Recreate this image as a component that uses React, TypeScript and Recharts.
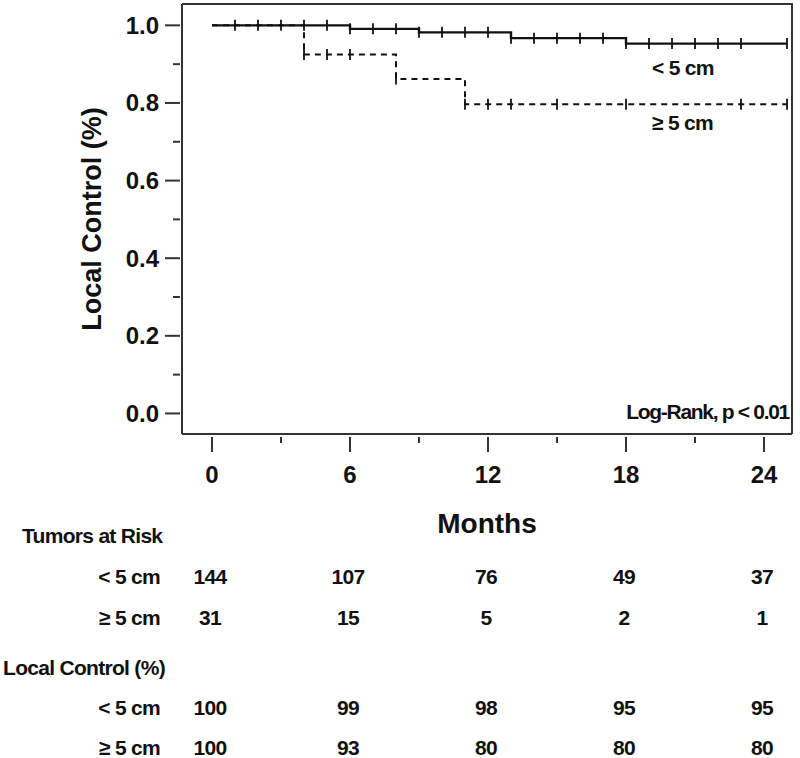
import { Customized, Label, Line, LineChart, XAxis, YAxis } from "recharts";

// Kaplan-Meier, tumors < 5 cm
const smallMonths = [0, 1, 2, 3, 4, 5, 6, 7, 8, 9, 10, 11, 12, 13, 14, 15, 16, 17, 18, 19, 20, 21, 22, 23, 25];
const smallLC = [
  1, 1, 1, 1, 1, 1, 0.991, 0.991, 0.991, 0.982, 0.982, 0.982, 0.982, 0.967, 0.967, 0.967, 0.967, 0.967,
  0.953, 0.953, 0.953, 0.953, 0.953, 0.953, 0.953,
];
const smallCensored = [0, 1, 1, 1, 1, 1, 1, 1, 1, 1, 1, 1, 1, 1, 1, 1, 1, 1, 1, 1, 1, 1, 1, 1, 1];

// Kaplan-Meier, tumors >= 5 cm
const largeMonths = [0, 4, 5, 6, 8, 11, 12, 13, 15, 18, 23, 25];
const largeLC = [1, 0.925, 0.925, 0.925, 0.862, 0.797, 0.797, 0.797, 0.797, 0.797, 0.797, 0.797];
const largeCensored = [0, 1, 1, 1, 1, 1, 1, 1, 1, 1, 1, 1];

// table under the x axis
const tableMonths = [0, 6, 12, 18, 24];
const atRiskSmall = [144, 107, 76, 49, 37];
const atRiskLarge = [31, 15, 5, 2, 1];
const lcSmall = [100, 99, 98, 95, 95];
const lcLarge = [100, 93, 80, 80, 80];

const xTicks = [0, 3, 6, 9, 12, 15, 18, 21, 24];
const yTicks = [0, 0.1, 0.2, 0.3, 0.4, 0.5, 0.6, 0.7, 0.8, 0.9, 1.0];
const xDomain = [-1.304, 25.217];
const yDomain = [-0.053, 1.055];

const MAIN_FONT = "'Liberation Sans', Arial, sans-serif";
const INK = "#111";
const FRAME = "#333";

// plot box (matches chart margin + axis sizes below)
const PLOT = { left: 182, top: 4, right: 792, bottom: 434 };

const smallData = smallMonths.map((m, i) => ({ month: m, lc: smallLC[i], censored: smallCensored[i] }));
const largeData = largeMonths.map((m, i) => ({ month: m, lc: largeLC[i], censored: largeCensored[i] }));

// the original uses a tight, condensed bold face for annotations and the table
const tightText = { fontFamily: MAIN_FONT, fontWeight: 700, fontSize: 21, fill: INK, letterSpacing: -0.7 };

function censorMark(props: any) {
  const { cx, cy, payload, index } = props;
  if (!payload?.censored) return <g key={`c-${index}`} />;
  return <line key={`c-${index}`} x1={cx} x2={cx} y1={cy - 5.5} y2={cy + 5.5} stroke={INK} strokeWidth={1.8} />;
}

function YTick(props: any) {
  const { x, y, payload } = props;
  const v = payload.value as number;
  const major = Math.round(v * 10) % 2 === 0;
  return (
    <g>
      <line x1={x - (major ? 17 : 9)} x2={x - 2} y1={y} y2={y} stroke={FRAME} strokeWidth={2} />
      {major && (
        <text x={x - 23} y={y + 8.5} textAnchor="end" fontFamily={MAIN_FONT} fontWeight={700} fontSize={24} fill={INK}>
          {v.toFixed(1)}
        </text>
      )}
    </g>
  );
}

function XTick(props: any) {
  const { x, y, payload } = props;
  const m = payload.value as number;
  const col = tableMonths.indexOf(m);
  if (col < 0) {
    return <line x1={x} x2={x} y1={y + 3} y2={y + 9} stroke={FRAME} strokeWidth={2} />;
  }
  return (
    <g>
      <line x1={x} x2={x} y1={y + 3} y2={y + 18} stroke={FRAME} strokeWidth={2} />
      <text x={x} y={y + 49} textAnchor="middle" fontFamily={MAIN_FONT} fontWeight={700} fontSize={24} fill={INK}>
        {m}
      </text>
      <text x={x - 2} y={y + 150} textAnchor="middle" {...tightText}>{atRiskSmall[col]}</text>
      <text x={x - 2} y={y + 191} textAnchor="middle" {...tightText}>{atRiskLarge[col]}</text>
      <text x={x - 2} y={y + 281} textAnchor="middle" {...tightText}>{lcSmall[col]}</text>
      <text x={x - 2} y={y + 321} textAnchor="middle" {...tightText}>{lcLarge[col]}</text>
    </g>
  );
}

function Annotations() {
  return (
    <g>
      {/* top and right sides of the plot frame; left and bottom come from the axis lines */}
      <path
        d={`M${PLOT.left},${PLOT.top} H${PLOT.right} V${PLOT.bottom}`}
        fill="none"
        stroke={FRAME}
        strokeWidth={2}
      />
      <text x={652} y={75} {...tightText}>{"< 5 cm"}</text>
      <text x={652} y={130} {...tightText}>{"≥ 5 cm"}</text>
      <text x={789} y={419} textAnchor="end" {...tightText} letterSpacing={-1.3}>Log-Rank, p &lt; 0.01</text>
      <text x={22} y={543} {...tightText}>Tumors at Risk</text>
      <text x={160} y={584} textAnchor="end" {...tightText}>{"< 5 cm"}</text>
      <text x={160} y={625} textAnchor="end" {...tightText}>{"≥ 5 cm"}</text>
      <text x={3} y={675} {...tightText}>Local Control (%)</text>
      <text x={160} y={715} textAnchor="end" {...tightText}>{"< 5 cm"}</text>
      <text x={160} y={755} textAnchor="end" {...tightText}>{"≥ 5 cm"}</text>
    </g>
  );
}

function MonthsLabel(props: any) {
  const { viewBox } = props;
  return (
    <text
      x={viewBox.x + viewBox.width / 2}
      y={viewBox.y + 99}
      textAnchor="middle"
      fontFamily={MAIN_FONT}
      fontWeight={700}
      fontSize={28}
      fill={INK}
    >
      Months
    </text>
  );
}

export default function App() {
  return (
    <div style={{ position: "absolute", left: 0, top: 0, width: 800, height: 758, background: "#fff" }}>
      <LineChart width={800} height={758} margin={{ top: PLOT.top, right: 800 - PLOT.right, bottom: 0, left: 0 }}>
        <XAxis
          type="number"
          dataKey="month"
          domain={xDomain}
          ticks={xTicks}
          allowDataOverflow
          height={758 - PLOT.bottom}
          tickSize={0}
          tickMargin={0}
          tickLine={false}
          axisLine={{ stroke: FRAME, strokeWidth: 2 }}
          tick={<XTick />}
          interval={0}
        >
          <Label content={<MonthsLabel />} />
        </XAxis>
        <YAxis
          type="number"
          domain={yDomain}
          ticks={yTicks}
          allowDataOverflow
          width={PLOT.left}
          tickSize={0}
          tickMargin={0}
          tickLine={false}
          axisLine={{ stroke: FRAME, strokeWidth: 2 }}
          tick={<YTick />}
          interval={0}
        >
          <Label
            value="Local Control (%)"
            angle={-90}
            position="center"
            style={{ fontFamily: MAIN_FONT, fontWeight: 700, fontSize: 27, fill: INK }}
          />
        </YAxis>
        <Line
          data={largeData}
          dataKey="lc"
          type="stepAfter"
          stroke={INK}
          strokeWidth={2}
          strokeDasharray="6 5"
          dot={censorMark}
          activeDot={false}
          isAnimationActive={false}
        />
        <Line
          data={smallData}
          dataKey="lc"
          type="stepAfter"
          stroke={INK}
          strokeWidth={2.4}
          dot={censorMark}
          activeDot={false}
          isAnimationActive={false}
        />
        <Customized component={<Annotations />} />
      </LineChart>
    </div>
  );
}
